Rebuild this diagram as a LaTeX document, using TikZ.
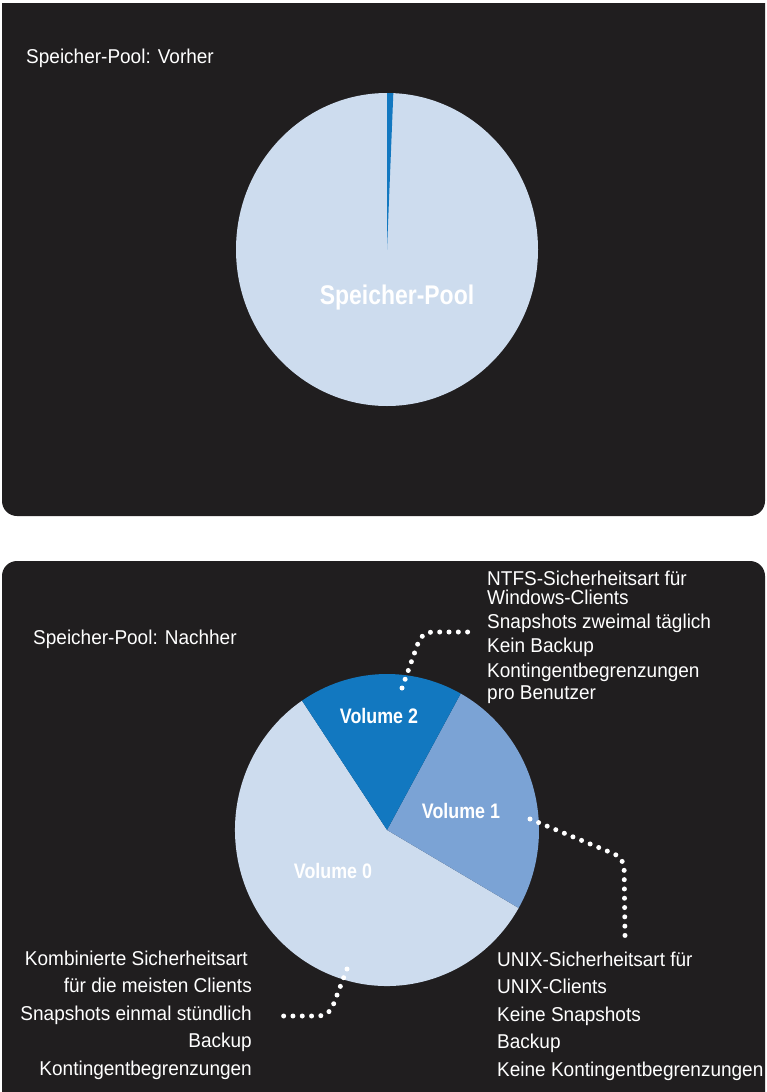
\documentclass[tikz,border=0pt]{standalone}
\usepackage{fontspec}
\setmainfont{Liberation Sans}[FakeStretch=0.95]
\newfontfamily\volfont{Liberation Sans}[FakeStretch=0.85]
\definecolor{panel}{HTML}{201E1F}
\definecolor{poollight}{HTML}{CDDCEE}
\definecolor{volblue}{HTML}{1278C0}
\definecolor{volmid}{HTML}{7BA3D5}
\begin{document}
\begin{tikzpicture}[x=1pt,y=1pt,
  txt/.style={text=white, inner sep=0pt, font=\fontsize{20}{27.4}\selectfont},
  vol/.style={text=white, inner sep=0pt, anchor=base, font=\volfont\bfseries\fontsize{21}{21}\selectfont},
  dots/.style={draw=white, line width=5pt, line cap=round, dash pattern=on 0pt off 9.3pt, rounded corners=10pt}]
\useasboundingbox (0,0) rectangle (766,-1092);
\fill[white] (0,0) rectangle (766,-1092);
% panels
\fill[panel] (2,-3) -- (765,-3) -- (765,-501) arc[start angle=0,end angle=-90,radius=15] -- (17,-516) arc[start angle=270,end angle=180,radius=15] -- cycle;
\fill[panel] (2,-1092) -- (2,-576) arc[start angle=180,end angle=90,radius=15] -- (750,-561) arc[start angle=90,end angle=0,radius=15] -- (765,-1092) -- cycle;
% top pie
\fill[poollight] (387,-249.5) ellipse[x radius=151, y radius=156.5];
\fill[volblue] (387,-249.5) -- ++(0,156.5) arc[start angle=90,end angle=87.6,x radius=151,y radius=156.5] -- cycle;
\node[vol, font=\volfont\bfseries\fontsize{27}{27}\selectfont] (pool) at (397,-304) {Speicher-Pool};
\node[txt, anchor=base west] (title1) at (26,-63) {Speicher-Pool: Vorher};
% bottom pie
\fill[poollight] (387,-830) -- ++({152*cos(-30)},{156*sin(-30)}) arc[start angle=-30,end angle=-236,x radius=152,y radius=156] -- cycle;
\fill[volmid] (387,-830) -- ++({152*cos(61)},{156*sin(61)}) arc[start angle=61,end angle=-30,x radius=152,y radius=156] -- cycle;
\fill[volblue] (387,-830) -- ++({152*cos(124)},{156*sin(124)}) arc[start angle=124,end angle=61,x radius=152,y radius=156] -- cycle;
\node[vol] (v2) at (379,-723) {Volume 2};
\node[vol] (v1) at (461,-818) {Volume 1};
\node[vol] (v0) at (333,-878) {Volume 0};
\node[txt, anchor=base west] (title2) at (33,-644) {Speicher-Pool: Nachher};
% label blocks (base anchor = last line)
\node[txt, anchor=base west, align=left, font=\fontsize{20}{22}\selectfont] (l2) at (487,-699)
  {NTFS-Sicherheitsart für\\[-3pt]Windows-Clients\\[2pt]Snapshots zweimal täglich\\[2pt]Kein Backup\\[3pt]Kontingentbegrenzungen\\pro Benutzer};
\node[txt, anchor=base west, align=left] (l1) at (497,-1076)
  {UNIX-Sicherheitsart für\\UNIX-Clients\\Keine Snapshots\\Backup\\Keine Kontingentbegrenzungen};
\node[txt, anchor=base east, align=right] (l0) at (252,-1075)
  {Kombinierte Sicherheitsart\hspace*{4pt}\\für die meisten Clients\\Snapshots einmal stündlich\\Backup\\Kontingentbegrenzungen};
% connectors
\coordinate (d2a) at (402,-688);
\coordinate (d2b) at (474,-632);
\coordinate (d1a) at (530,-819);
\coordinate (d1b) at (625,-936);
\coordinate (d0a) at (347,-969);
\coordinate (d0b) at (277,-1016);
\draw[dots] (d2a) -- (422,-632) -- (d2b);
\draw[dots] (d1a) -- (624,-858) -- (d1b);
\draw[dots] (d0a) -- (329,-1016) -- (d0b);
\end{tikzpicture}
\end{document}
